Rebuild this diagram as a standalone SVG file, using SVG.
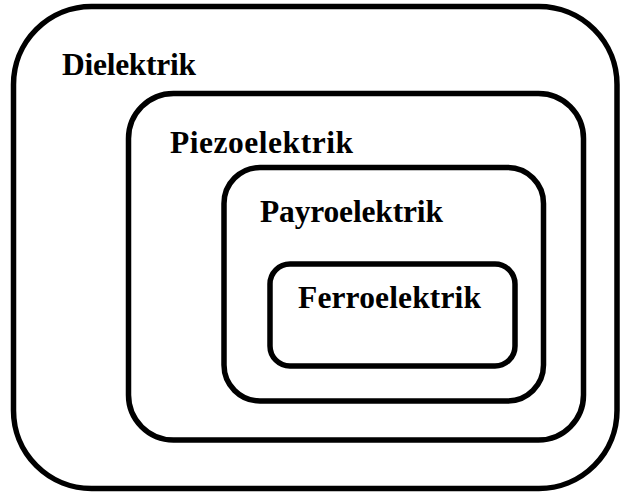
<svg xmlns="http://www.w3.org/2000/svg" width="622" height="495" viewBox="0 0 622 495">
<style>
.box{fill:none;stroke:#000;stroke-width:5.5}
.lbl{font-family:"Liberation Serif","Times New Roman",serif;font-weight:bold;font-size:31.5px;fill:#000}
</style>
<rect width="622" height="495" fill="#fff"/>
<g id="dielektrik">
<rect class="box" x="13.5" y="6.5" width="603.5" height="482" rx="78" ry="78"/>
<text class="lbl" x="62" y="75" textLength="134">Dielektrik</text>
</g>
<g id="piezoelektrik">
<rect class="box" x="128.5" y="93.5" width="455" height="346.5" rx="45" ry="45"/>
<text class="lbl" x="170" y="153" textLength="183">Piezoelektrik</text>
</g>
<g id="payroelektrik">
<rect class="box" x="224" y="167.5" width="319.5" height="233.5" rx="36" ry="36"/>
<text class="lbl" x="260" y="222" textLength="183">Payroelektrik</text>
</g>
<g id="ferroelektrik">
<rect class="box" x="270" y="264" width="245" height="102" rx="20" ry="20"/>
<text class="lbl" x="298" y="308" textLength="183">Ferroelektrik</text>
</g>
<g id="connectors"></g>
</svg>
